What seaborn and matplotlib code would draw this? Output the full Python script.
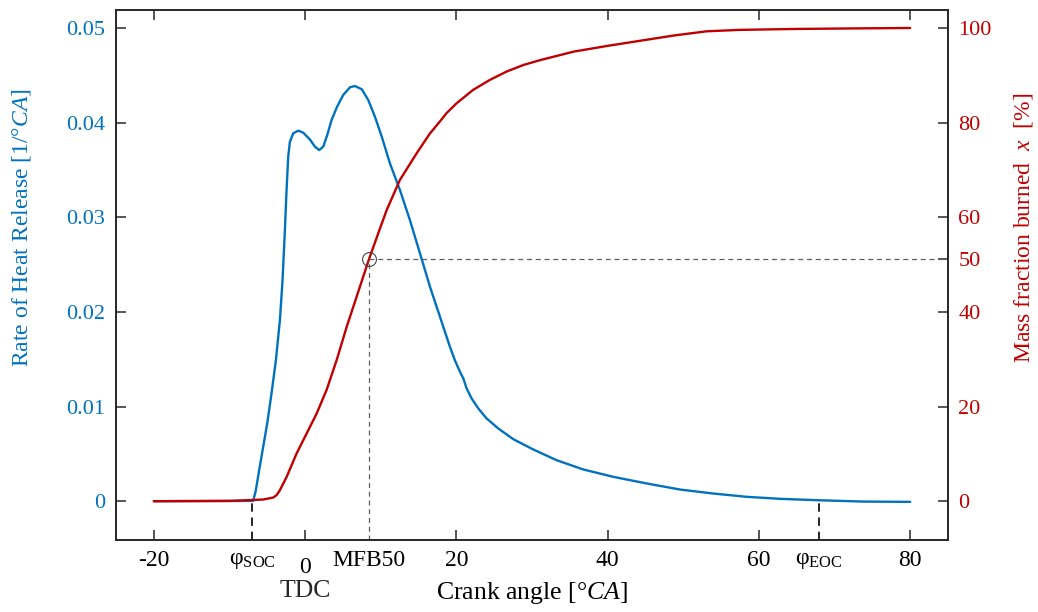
import numpy as np
import pandas as pd
import matplotlib
matplotlib.use("Agg")
import matplotlib.pyplot as plt
import seaborn as sns
from matplotlib.transforms import blended_transform_factory, ScaledTranslation

# ---------------- data ----------------
rohr_angle = [-20, -10, -7.5, -6.86, -6.51, -6.07, -5.54, -5.01, -4.44, -3.86,
              -3.33, -2.98, -2.67, -2.45, -2.23, -2.01, -1.57, -0.91, -0.25,
              0.63, 1.30, 1.87, 2.40, 2.93, 3.50, 4.19, 5.04, 5.93, 6.59, 7.50,
              8.35, 9.23, 10.14, 11.22, 12.54, 13.86, 15.19, 16.51, 17.83,
              19.15, 19.80, 20.48, 20.92, 21.36, 22.02, 22.90, 24.00, 25.55,
              27.53, 30.18, 33.26, 36.79, 40.76, 45.19, 49.58, 53.97, 58.42,
              62.80, 67.90, 73.83, 80.0]
rohr = [0.0, 0.00002, 0.00003, 0.00003, 0.00116, 0.00328, 0.00574, 0.00821,
        0.01138, 0.01490, 0.01913, 0.02336, 0.02865, 0.03288, 0.03640, 0.03798,
        0.03887, 0.03915, 0.03894, 0.03823, 0.03746, 0.03710, 0.03746, 0.03869,
        0.04027, 0.04161, 0.04292, 0.04373, 0.04387, 0.04352, 0.04239, 0.04063,
        0.03851, 0.03569, 0.03288, 0.02970, 0.02618, 0.02266, 0.01949, 0.01631,
        0.01490, 0.01367, 0.01297, 0.01191, 0.01085, 0.00980, 0.00874, 0.00768,
        0.00655, 0.00546, 0.00433, 0.00335, 0.00257, 0.00187, 0.00123, 0.00081,
        0.00046, 0.00025, 0.00010, -0.00004, -0.00007]

mfb_angle = [-20, -9.95, -5.54, -4.22, -3.77, -3.33, -2.45, -1.12, 0.20, 1.52,
             2.84, 4.17, 5.49, 6.81, 8.44, 9.67, 10.78, 12.54, 14.74, 16.5,
             17.8, 18.7, 20.04, 22.2, 24.4, 26.65, 28.9, 31.06, 35.5, 39.9,
             44.3, 48.7, 53.1, 57.5, 65.0, 72.0, 80.0]
mfb = [0.0, 0.07, 0.35, 0.77, 1.27, 2.33, 5.1, 10.1, 14.3, 18.5, 23.5, 29.8,
       36.8, 43.2, 51.1, 56.6, 61.5, 67.9, 73.5, 77.7, 80.2, 82.0, 84.1, 86.9,
       89.0, 90.8, 92.2, 93.2, 95.0, 96.2, 97.3, 98.4, 99.3, 99.6, 99.8, 99.9,
       100.0]

soc_angle = -7.0
eoc_angle = 68.0
mfb50_angle = 8.44
mfb50_level = 51.1      # level of the "50" marker as drawn in the reference

xtick_vals = [-20, soc_angle, 0, mfb50_angle, 20, 40, 60, eoc_angle, 80]
xtick_labels = ["-20", r"φ$_{\mathrm{SOC}}$", "0", "MFB50", "20", "40", "60",
                r"φ$_{\mathrm{EOC}}$", "80"]
ytick_left = [0, 0.01, 0.02, 0.03, 0.04, 0.05]
ytick_left_labels = ["0", "0.01", "0.02", "0.03", "0.04", "0.05"]
ytick_right = [0, 20, 40, mfb50_level, 60, 80, 100]
ytick_right_labels = ["0", "20", "40", "50", "60", "80", "100"]

BLUE = "#0072BD"
RED = "#C00000"
GRAY = "#606060"

# ---------------- style ----------------
sns.set_style("ticks")
plt.rcParams["font.family"] = ["Liberation Serif", "DejaVu Serif"]
plt.rcParams["mathtext.fontset"] = "custom"
plt.rcParams["mathtext.rm"] = "Liberation Serif"
plt.rcParams["mathtext.it"] = "Liberation Serif:italic"
plt.rcParams["axes.edgecolor"] = "#262626"
plt.rcParams["axes.linewidth"] = 1.2

fig = plt.figure(figsize=(10.38, 6.12), dpi=100)
ax = fig.add_axes([116 / 1038, 1 - 540 / 612, 832 / 1038, 530 / 612])
ax2 = ax.twinx()

sns.lineplot(x=rohr_angle, y=rohr, ax=ax, color=BLUE, lw=1.7,
             estimator=None, sort=False)
sns.lineplot(x=mfb_angle, y=mfb, ax=ax2, color=RED, lw=1.7,
             estimator=None, sort=False)

ax.set_xlim(-25, 85)
ax.set_ylim(-0.0041, 0.0519)
ax2.set_ylim(-8.2, 103.8)

# markers for start / end of combustion
ylo = ax.get_ylim()[0]
ax.plot([soc_angle, soc_angle], [ylo, 0], color="black", lw=1.2, ls=(0, (5, 3.5)))
ax.plot([eoc_angle, eoc_angle], [ylo, 0], color="black", lw=1.2, ls=(0, (5, 3.5)))

ylo2 = ax2.get_ylim()[0]
ax2.plot([mfb50_angle, mfb50_angle], [ylo2, mfb50_level], color=GRAY, lw=0.9,
         ls=(0, (4, 3)))
ax2.plot([mfb50_angle, 85], [mfb50_level, mfb50_level], color=GRAY, lw=0.9,
         ls=(0, (4, 3)))
ax2.plot([mfb50_angle], [mfb50_level], marker="o", mfc="none", mec="#444444",
         ms=10, mew=0.8, ls="none")

# ticks
ax.set_xticks(xtick_vals)
ax.set_xticklabels(xtick_labels)
ax.set_yticks(ytick_left)
ax.set_yticklabels(ytick_left_labels)
ax2.set_yticks(ytick_right)
ax2.set_yticklabels(ytick_right_labels)

ax.tick_params(axis="x", direction="in", length=7, width=1.1, top=True,
               pad=7.5, labelsize=17, color="#262626", labelcolor="black")
ax.tick_params(axis="y", direction="in", length=7, width=1.1, pad=8,
               labelsize=16, color="#262626", labelcolor=BLUE)
ax2.tick_params(axis="y", direction="in", length=7, width=1.1, pad=7.5,
                labelsize=16, color="#262626", labelcolor=RED)

ticks = ax.xaxis.get_major_ticks()
for i in (1, 3, 7):
    ticks[i].tick1line.set_visible(False)
    ticks[i].tick2line.set_visible(False)

# "0" label sits slightly lower
lbl0 = ax.get_xticklabels()[2]
lbl0.set_transform(lbl0.get_transform() +
                   ScaledTranslation(0, -7 / 100, fig.dpi_scale_trans))

# labels
ax.set_xlabel(r"Crank angle [°$\mathit{CA}$]", fontsize=18.5, color="black")
ax.xaxis.set_label_coords(0.5, -0.075)
trans = blended_transform_factory(ax.transData, ax.transAxes)
ax.text(0, -0.075, "TDC", transform=trans, ha="center", va="top", fontsize=18.5)

ax.set_ylabel(r"Rate of Heat Release [$\mathit{1/°CA}$]", fontsize=17, color=BLUE)
ax.yaxis.set_label_coords(-0.0998, 0.59)
ax2.set_ylabel(r"Mass fraction burned  $\mathit{x}$  [%]", fontsize=17, color=RED,
               rotation=90)
ax2.yaxis.set_label_coords(1.077, 0.59)

for a in (ax, ax2):
    for s in a.spines.values():
        s.set_visible(True)
        s.set_color("#262626")
        s.set_linewidth(1.2)

fig.savefig("out.png", dpi=100)
